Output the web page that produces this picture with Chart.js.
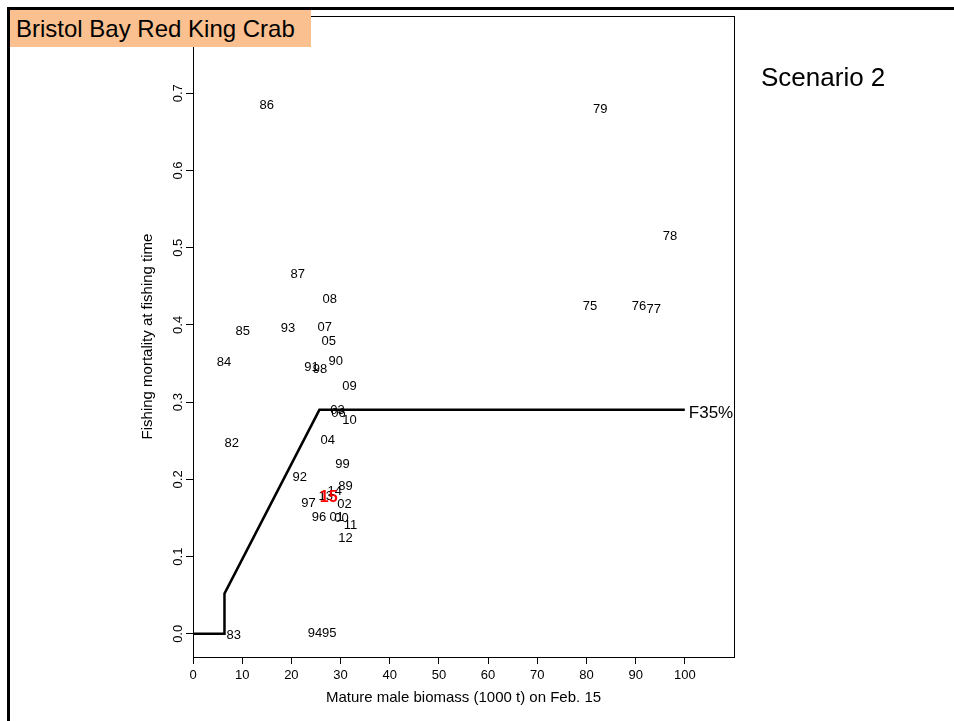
<!DOCTYPE html>
<html>
<head>
<meta charset="utf-8">
<script src="https://cdn.jsdelivr.net/npm/chart.js@4.4.1/dist/chart.umd.min.js"></script>
<style>
  html, body { margin: 0; padding: 0; background: #fff; }
  #wrap { position: relative; width: 954px; height: 721px; overflow: hidden; font-family: "Liberation Sans", Arial, sans-serif; }
  #frame { position: absolute; left: 7px; top: 7px; width: 960px; height: 730px; border-top: 3px solid #000; border-left: 3px solid #000; }
  #titre { position: absolute; left: 10px; top: 10px; width: 301px; height: 37px; background: #fbc08f; font-size: 24px; line-height: 37px; padding-left: 6px; box-sizing: border-box; color: #000; }
  #scenario { position: absolute; left: 761px; top: 62px; font-size: 26px; color: #000; }
  canvas { position: absolute; left: 0; top: 0; }
</style>
</head>
<body>
<div id="wrap">
  <canvas id="hcrChart" width="954" height="721"></canvas>
  <div id="frame"></div>
  <div id="titre">Bristol Bay Red King Crab</div>
  <div id="scenario">Scenario 2</div>
</div>
<script>
// Années (étiquettes) et valeurs
const annees = ['75', '76', '77', '78', '79', '82', '83', '84', '85', '86', '87', '89', '90', '91', '92', '93', '94', '95', '96', '97', '98', '99',
    '00', '01', '02', '03', '04', '05', '06', '07', '08', '09', '10', '11', '12', '13', '14', '15'];
const biomasse = [80.7, 90.7, 93.7, 97.0, 82.8, 7.9, 8.3, 6.3, 10.1, 15.0, 21.3, 31.0, 29.0, 24.1, 21.7, 19.3, 24.8, 27.7, 25.6, 23.5, 25.8, 30.4,
    30.2, 29.2, 30.8, 29.4, 27.4, 27.6, 29.6, 26.8, 27.8, 31.8, 31.8, 32.0, 31.0, 27.0, 28.8, 27.6];
const mortalite = [0.424, 0.424, 0.420, 0.515, 0.679, 0.246, -0.002, 0.351, 0.391, 0.684, 0.466, 0.191, 0.353, 0.345, 0.203, 0.396, 0.001, 0.001, 0.151, 0.169, 0.343, 0.219,
    0.149, 0.151, 0.168, 0.289, 0.250, 0.379, 0.285, 0.397, 0.433, 0.320, 0.276, 0.140, 0.124, 0.178, 0.185, 0.177];

// Règle de contrôle (harvest control rule)
const regleX = [0, 6.4, 6.4, 25.7, 100];
const regleY = [0, 0, 0.052, 0.29, 0.29];
const regleLabel = 'F35%';

// Graduations des axes
const ticksX = [0, 10, 20, 30, 40, 50, 60, 70, 80, 90, 100];
const ticksY = [0, 0.1, 0.2, 0.3, 0.4, 0.5, 0.6, 0.7];

const police = '"Liberation Sans", Arial, sans-serif';

// Plugin : cadre du graphique + étiquettes des années + texte F35%
const etiquettesPlugin = {
    id: 'etiquettes',
    afterDatasetsDraw(chart) {
        const ctx = chart.ctx;
        const xs = chart.scales.x;
        const ys = chart.scales.y;
        const a = chart.chartArea;
        ctx.save();
        ctx.strokeStyle = '#000';
        ctx.lineWidth = 1;
        ctx.strokeRect(Math.round(a.left) + 0.5, Math.round(a.top) + 0.5, Math.round(a.right - a.left), Math.round(a.bottom - a.top));

        ctx.textAlign = 'center';
        ctx.textBaseline = 'middle';
        annees.forEach((an, i) => {
            if (an === '15') return;
            ctx.fillStyle = '#000';
            ctx.font = '13px ' + police;
            ctx.fillText(an, xs.getPixelForValue(biomasse[i]), ys.getPixelForValue(mortalite[i]));
        });
        // 2015 en rouge, par-dessus
        const k = annees.indexOf('15');
        ctx.fillStyle = '#ff0000';
        ctx.font = 'bold 16px ' + police;
        ctx.fillText('15', xs.getPixelForValue(biomasse[k]), ys.getPixelForValue(mortalite[k]));

        // F35% au bout de la ligne
        const n = regleX.length - 1;
        ctx.fillStyle = '#000';
        ctx.font = '17px ' + police;
        ctx.textAlign = 'left';
        ctx.fillText(regleLabel, xs.getPixelForValue(regleX[n]) + 4, ys.getPixelForValue(regleY[n]) + 3);
        ctx.restore();
    }
};

const hcrChart = new Chart(document.getElementById('hcrChart'), {
    type: 'scatter',
    data: {
        datasets: [{
            label: 'Années',
            data: annees.map((an, i) => ({ x: biomasse[i], y: mortalite[i] })),
            pointRadius: 0,
            pointHoverRadius: 0,
        }, {
            label: 'Règle',
            data: regleX.map((v, i) => ({ x: v, y: regleY[i] })),
            showLine: true,
            borderColor: '#000',
            borderWidth: 2.5,
            pointRadius: 0,
            fill: false,
        }],
    },
    options: {
        responsive: false,
        animation: false,
        layout: { padding: { left: 136, right: 220, top: 16, bottom: 0 } },
        plugins: {
            legend: { display: false },
            tooltip: { enabled: false },
        },
        scales: {
            x: {
                type: 'linear',
                min: 0,
                max: 110,
                afterBuildTicks: (scale) => { scale.ticks = ticksX.map(v => ({ value: v })); },
                afterFit: (scale) => { scale.height = 64; },
                border: { display: false },
                grid: { drawOnChartArea: false, drawTicks: true, tickLength: 7, color: '#000' },
                ticks: {
                    color: '#000',
                    font: { family: police, size: 13 },
                    padding: 4,
                    maxRotation: 0,
                    autoSkip: false,
                },
                title: {
                    display: true,
                    text: 'Mature male biomass (1000 t) on Feb. 15',
                    color: '#000',
                    font: { family: police, size: 15 },
                    padding: { top: 0, bottom: 14 },
                },
            },
            y: {
                type: 'linear',
                min: -0.03,
                max: 0.80,
                afterBuildTicks: (scale) => { scale.ticks = ticksY.map(v => ({ value: v })); },
                afterFit: (scale) => { scale.width = 57; },
                border: { display: false },
                grid: { drawOnChartArea: false, drawTicks: true, tickLength: 7, color: '#000' },
                ticks: {
                    color: '#000',
                    font: { family: police, size: 13 },
                    padding: -1,
                    minRotation: 90,
                    maxRotation: 90,
                    crossAlign: 'center',
                    autoSkip: false,
                    callback: (v) => v.toFixed(1),
                },
                title: {
                    display: true,
                    text: 'Fishing mortality at fishing time',
                    color: '#000',
                    font: { family: police, size: 15 },
                    padding: { top: 3, bottom: 0 },
                },
            },
        },
    },
    plugins: [etiquettesPlugin],
});
</script>
</body>
</html>
